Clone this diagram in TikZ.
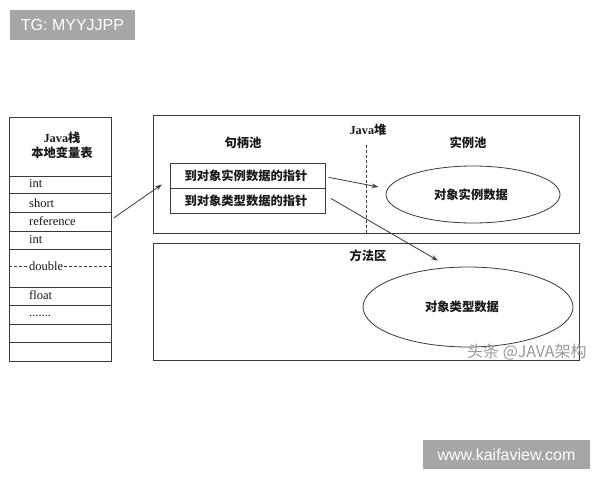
\documentclass[tikz,border=0pt]{standalone}
\usepackage{fontspec}
\setmainfont{Liberation Serif}
\newfontfamily\cjk{Noto Sans CJK SC}
\newfontfamily\wmfont{Liberation Sans}
\usetikzlibrary{arrows.meta,shapes.geometric}
\definecolor{linec}{HTML}{3A3A3A}
\definecolor{txtc}{HTML}{1A1A1A}
\definecolor{wmbg}{HTML}{A6A6A6}
\tikzset{
  box/.style={draw=linec, line width=0.8pt, anchor=north west, inner sep=0pt},
  rowtxt/.style={anchor=west, inner sep=0pt, text=txtc, font=\fontsize{12.5}{14}\selectfont},
  cjktxt/.style={inner sep=0pt, text=txtc, font=\cjk\bfseries\fontsize{12.3}{14}\selectfont},
  oval/.style={draw=linec, line width=0.8pt, ellipse, inner sep=0pt},
  arr/.style={draw=linec, line width=0.8pt, -{Stealth[length=7pt,width=4.5pt]}},
  wmbox/.style={fill=wmbg, text=white, inner sep=0pt, font=\wmfont\fontsize{16}{18}\selectfont}
}
\begin{document}
\begin{tikzpicture}[x=1pt,y=-1pt]
\useasboundingbox[fill=white] (0,0) rectangle (600,480);
% watermark top-left
\node[wmbox, minimum width=125pt, minimum height=30pt] (wm1) at (72.5,25) {TG: MYYJJPP};
% Java stack table
\node[box, minimum width=102pt, minimum height=59pt] (hdr) at (9,117) {};
\node[box, minimum width=102pt, minimum height=17pt] (r1) at (9,176) {};
\node[box, minimum width=102pt, minimum height=19pt] (r2) at (9,193) {};
\node[box, minimum width=102pt, minimum height=19pt] (ref) at (9,212) {};
\node[box, minimum width=102pt, minimum height=18pt] (r4) at (9,231) {};
\node[box, minimum width=102pt, minimum height=38pt] (r5) at (9,249) {};
\node[box, minimum width=102pt, minimum height=18pt] (r6) at (9,287) {};
\node[box, minimum width=102pt, minimum height=19pt] (r7) at (9,305) {};
\node[box, minimum width=102pt, minimum height=18pt] (r8) at (9,324) {};
\node[box, minimum width=102pt, minimum height=19pt] (r9) at (9,342) {};
\node[cjktxt, align=center] (hdrtxt) at (62,145) {{\fontspec{Liberation Serif}\bfseries Java}栈\\[1pt]本地变量表};
\node[rowtxt] (t1) at (29,183.5) {int};
\node[rowtxt] (t2) at (29,203) {short};
\node[rowtxt] (t3) at (29,221) {reference};
\node[rowtxt] (t4) at (29,239.5) {int};
\coordinate (dl) at (9,266);
\coordinate (dr) at (111,266);
\draw[draw=linec, line width=0.7pt, dashed, dash pattern=on 3pt off 2pt] (dl) -- (dr);
\node[rowtxt, fill=white, inner xsep=1pt] (t5) at (28,266) {double};
\node[rowtxt] (t6) at (29,295.5) {float};
\node[rowtxt] (t7) at (29,316) {.......};
% Java heap
\node[box, minimum width=426pt, minimum height=118pt] (heap) at (153,115) {};
\node[cjktxt] (heaplbl) at (368,130) {{\fontspec{Liberation Serif}\bfseries Java}堆};
\node[cjktxt] (hpool) at (243,143) {句柄池};
\node[cjktxt] (ipool) at (468,143) {实例池};
\coordinate (vtop) at (366,145);
\coordinate (vbot) at (366,233);
\draw[draw=linec, line width=0.7pt, dashed, dash pattern=on 3pt off 2pt] (vtop) -- (vbot);
\node[box, minimum width=155pt, minimum height=25pt] (hp1) at (170,163) {};
\node[box, minimum width=155pt, minimum height=25pt] (hp2) at (170,188) {};
\node[cjktxt] (hp1t) at (246,176) {到对象实例数据的指针};
\node[cjktxt] (hp2t) at (246,201) {到对象类型数据的指针};
\node[oval, minimum width=174pt, minimum height=57pt] (e1) at (473,194.5) {};
\node[cjktxt] (e1t) at (471,195) {对象实例数据};
% method area
\node[box, minimum width=426pt, minimum height=117pt] (meth) at (153,243) {};
\node[cjktxt] (methlbl) at (368,256) {方法区};
\node[oval, minimum width=210pt, minimum height=80pt] (e2) at (468,307) {};
\node[cjktxt] (e2t) at (462,307) {对象类型数据};
% arrows
\draw[arr] ([shift={(2,-4)}]ref.east) -- ([shift={(-8,8.5)}]hp1.west);
\draw[arr] ([shift={(3,1.5)}]hp1.east) -- ([shift={(-7,-7.5)}]e1.west);
\draw[arr] ([shift={(5,-2.5)}]hp2.east) -- ([shift={(-30,-6)}]e2.north);
% watermarks
\node[inner sep=0pt, text=black!40, font=\cjk\fontsize{16}{18}\selectfont, anchor=west] (wm3) at (467,352) {头条 @JAVA架构};
\node[wmbox, minimum width=167pt, minimum height=29pt] (wm2) at (506.5,454.5) {www.kaifaview.com};
\end{tikzpicture}
\end{document}
